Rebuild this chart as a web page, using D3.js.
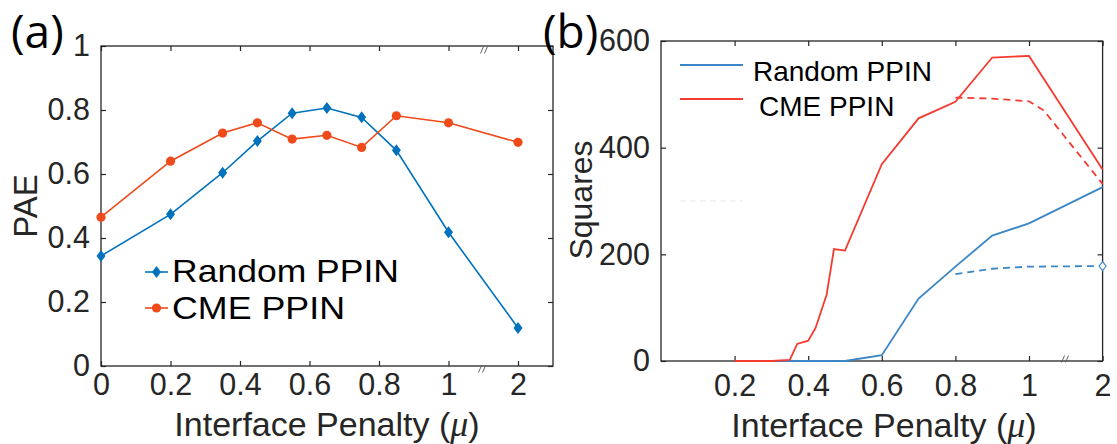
<!DOCTYPE html>
<html>
<head>
<meta charset="utf-8">
<script src="https://cdn.jsdelivr.net/npm/d3@7"></script>
<style>
body { margin: 0; background: #fff; }
</style>
</head>
<body>
<div id="vis"></div>
<script>
var width = 1117,
    height = 444;

// panel (a): PAE vs interface penalty
var muA = [0, 0.2, 0.35, 0.45, 0.55, 0.65, 0.75, 0.85, 1, 2];
var randomPAE = [0.344, 0.474, 0.604, 0.703, 0.79, 0.806, 0.777, 0.674, 0.418, 0.119];
var cmePAE = [0.465, 0.64, 0.728, 0.76, 0.709, 0.721, 0.683, 0.782, 0.76, 0.699];
var xTicksA = [0, 0.2, 0.4, 0.6, 0.8, 1, 2];
var yTicksA = [0, 0.2, 0.4, 0.6, 0.8, 1];

// panel (b): squares vs interface penalty
var muRandom = [0.2, 0.35, 0.5, 0.6, 0.7, 0.8, 0.9, 1, 2];
var randomSq = [0, 0, 0, 11, 117, 177, 235, 258, 326];
var muRandomDash = [0.8, 0.9, 1, 2];
var randomSqDash = [163, 173, 177, 178];
var muCme = [0.2, 0.3, 0.35, 0.37, 0.4, 0.42, 0.45, 0.47, 0.5, 0.6, 0.7, 0.8, 0.9, 1, 2];
var cmeSq = [0, 0, 2, 32, 38, 62, 124, 210, 207, 369, 455, 486, 569, 572, 359];
var muCmeDash = [0.8, 0.9, 1, 1.2, 2];
var cmeSqDash = [494, 492, 487, 470, 332];
var xTicksB = [0.2, 0.4, 0.6, 0.8, 1, 2];
var yTicksB = [0, 200, 400, 600];

var blueA = "#0072bd", orangeA = "#ee4a1a",
    blueB = "#3b86c6", redB = "#f53a30",
    ink = "#262626";

var svg = d3.select("#vis").append("svg")
    .attr("width", width)
    .attr("height", height)
    .style("font-family", "'Liberation Sans', Arial, sans-serif");

function pairs(xs, ys) {
    return xs.map(function(d, i) { return [d, ys[i]]; });
}

function frame(x, y, left, right, top, bottom, xt, yt, xPad) {
    var g = svg.append("g");
    g.append("rect")
        .attr("x", left).attr("y", top)
        .attr("width", right - left).attr("height", bottom - top)
        .attr("fill", "none").attr("stroke", ink).attr("stroke-width", 1.3);

    g.append("g").attr("transform", "translate(0," + bottom + ")")
        .call(d3.axisBottom(x).tickValues(xt).tickSize(-5).tickSizeOuter(0)
            .tickPadding(xPad).tickFormat(function(d) { return String(d); }));
    g.append("g").attr("transform", "translate(0," + top + ")")
        .call(d3.axisTop(x).tickValues(xt).tickSize(-5).tickSizeOuter(0).tickFormat(""));
    g.append("g").attr("transform", "translate(" + left + ",0)")
        .call(d3.axisLeft(y).tickValues(yt).tickSize(-5).tickSizeOuter(0)
            .tickPadding(11).tickFormat(function(d) { return String(d); }));
    g.append("g").attr("transform", "translate(" + right + ",0)")
        .call(d3.axisRight(y).tickValues(yt).tickSize(-5).tickSizeOuter(0).tickFormat(""));

    g.selectAll(".domain").remove();
    g.selectAll(".tick line").attr("stroke", ink).attr("stroke-width", 1.2);
    g.selectAll(".tick text")
        .attr("fill", ink)
        .style("font-size", "30.5px")
        .style("font-family", "'Liberation Sans', Arial, sans-serif");
    return g;
}

function breakMark(cx, cy) {
    [-2, 2].forEach(function(o) {
        svg.append("line")
            .attr("x1", cx + o - 1.5).attr("y1", cy + 3.5)
            .attr("x2", cx + o + 1.5).attr("y2", cy - 3.5)
            .attr("stroke", "#555").attr("stroke-width", 0.9);
    });
}

function axisTitle(x, y, rot, size) {
    return svg.append("text")
        .attr("transform", "translate(" + x + "," + y + ")" + (rot ? "rotate(-90)" : ""))
        .attr("text-anchor", "middle")
        .attr("fill", ink)
        .style("font-size", size + "px");
}

function muTitle(x, y) {
    var t = axisTitle(x, y, false, 34);
    t.append("tspan").text("Interface Penalty (");
    t.append("tspan").style("font-family", "'Liberation Serif', serif").style("font-style", "italic")
        .style("font-size", "36px").text("\u03bc");
    t.append("tspan").text(")");
}

// ---------- panel (a)
var xA = d3.scaleLinear().domain([0, 1, 2]).range([101, 448.5, 518]);
var yA = d3.scaleLinear().domain([0, 1]).range([366, 46]);

frame(xA, yA, 101, 553, 46, 366, xTicksA, yTicksA, 7);
breakMark(484, 50);
breakMark(482, 369);

var lineA = d3.line().x(function(d) { return xA(d[0]); }).y(function(d) { return yA(d[1]); });

svg.append("path")
    .datum(pairs(muA, randomPAE))
    .attr("d", lineA)
    .attr("fill", "none").attr("stroke", blueA).attr("stroke-width", 1.6);
svg.append("path")
    .datum(pairs(muA, cmePAE))
    .attr("d", lineA)
    .attr("fill", "none").attr("stroke", orangeA).attr("stroke-width", 1.6);

var diamond = "M0,-6L4.5,0L0,6L-4.5,0Z";

svg.selectAll(".dmA")
    .data(pairs(muA, randomPAE))
    .enter().append("path")
    .attr("transform", function(d) { return "translate(" + xA(d[0]) + "," + yA(d[1]) + ")"; })
    .attr("d", diamond)
    .attr("fill", blueA);

svg.selectAll(".ciA")
    .data(pairs(muA, cmePAE))
    .enter().append("circle")
    .attr("cx", function(d) { return xA(d[0]); })
    .attr("cy", function(d) { return yA(d[1]); })
    .attr("r", 4.6)
    .attr("fill", orangeA);

// legend (a)
var legA = svg.append("g");
legA.append("line").attr("x1", 145).attr("x2", 168).attr("y1", 272).attr("y2", 272)
    .attr("stroke", blueA).attr("stroke-width", 1.6);
legA.append("path").attr("transform", "translate(156.5,272)").attr("d", diamond).attr("fill", blueA);
legA.append("line").attr("x1", 145).attr("x2", 168).attr("y1", 308).attr("y2", 308)
    .attr("stroke", orangeA).attr("stroke-width", 1.6);
legA.append("circle").attr("cx", 156.5).attr("cy", 308).attr("r", 4.6).attr("fill", orangeA);
legA.append("text").attr("x", 172).attr("y", 282).style("font-size", "32px")
    .attr("textLength", 227).attr("lengthAdjust", "spacingAndGlyphs").text("Random PPIN");
legA.append("text").attr("x", 172).attr("y", 319).style("font-size", "32px")
    .attr("textLength", 173).attr("lengthAdjust", "spacingAndGlyphs").text("CME PPIN");

muTitle(327, 436);
axisTitle(37, 206, true, 33).text("PAE");

svg.append("text").attr("x", 11).attr("y", 48)
    .style("font-family", "'Open Sans', sans-serif").style("font-size", "46px")
    .text("(a)");

// ---------- panel (b)
var xB = d3.scaleLinear().domain([0, 1, 2]).range([661, 1029, 1102.6]);
var yB = d3.scaleLinear().domain([0, 600]).range([361, 41]);

frame(xB, yB, 661, 1102.6, 41, 361, xTicksB, yTicksB, 13);
breakMark(1065, 359);

var lineB = d3.line().x(function(d) { return xB(d[0]); }).y(function(d) { return yB(d[1]); });

// faint leftover legend stroke
svg.append("line").attr("x1", 680).attr("x2", 743).attr("y1", 201).attr("y2", 201)
    .attr("stroke", "#e4e9ef").attr("stroke-width", 1.2).attr("stroke-dasharray", "6,4");

svg.append("path").datum(pairs(muRandom, randomSq)).attr("d", lineB)
    .attr("fill", "none").attr("stroke", blueB).attr("stroke-width", 1.8);
svg.append("path").datum(pairs(muRandomDash, randomSqDash)).attr("d", lineB)
    .attr("fill", "none").attr("stroke", blueB).attr("stroke-width", 1.8).attr("stroke-dasharray", "7,5");
svg.append("path").datum(pairs(muCme, cmeSq)).attr("d", lineB)
    .attr("fill", "none").attr("stroke", redB).attr("stroke-width", 1.8);
svg.append("path").datum(pairs(muCmeDash, cmeSqDash)).attr("d", lineB)
    .attr("fill", "none").attr("stroke", redB).attr("stroke-width", 1.8).attr("stroke-dasharray", "7,5");

svg.append("path")
    .attr("transform", "translate(" + xB(2) + "," + yB(randomSqDash[randomSqDash.length - 1]) + ")")
    .attr("d", "M0,-4.5L3.5,0L0,4.5L-3.5,0Z")
    .attr("fill", "#fff").attr("stroke", blueB).attr("stroke-width", 1.1);

// legend (b)
var legB = svg.append("g");
legB.append("line").attr("x1", 680).attr("x2", 743).attr("y1", 65).attr("y2", 65)
    .attr("stroke", blueB).attr("stroke-width", 1.8);
legB.append("line").attr("x1", 680).attr("x2", 743).attr("y1", 99).attr("y2", 99)
    .attr("stroke", redB).attr("stroke-width", 1.8);
legB.append("text").attr("x", 753).attr("y", 81).style("font-size", "28px").text("Random PPIN");
legB.append("text").attr("x", 759).attr("y", 116).style("font-size", "28px").text("CME PPIN");

muTitle(884, 437);
axisTitle(592, 200, true, 32).text("Squares");

svg.append("text").attr("x", 543).attr("y", 48)
    .style("font-family", "'Open Sans', sans-serif").style("font-size", "46px")
    .text("(b)");
</script>
</body>
</html>
